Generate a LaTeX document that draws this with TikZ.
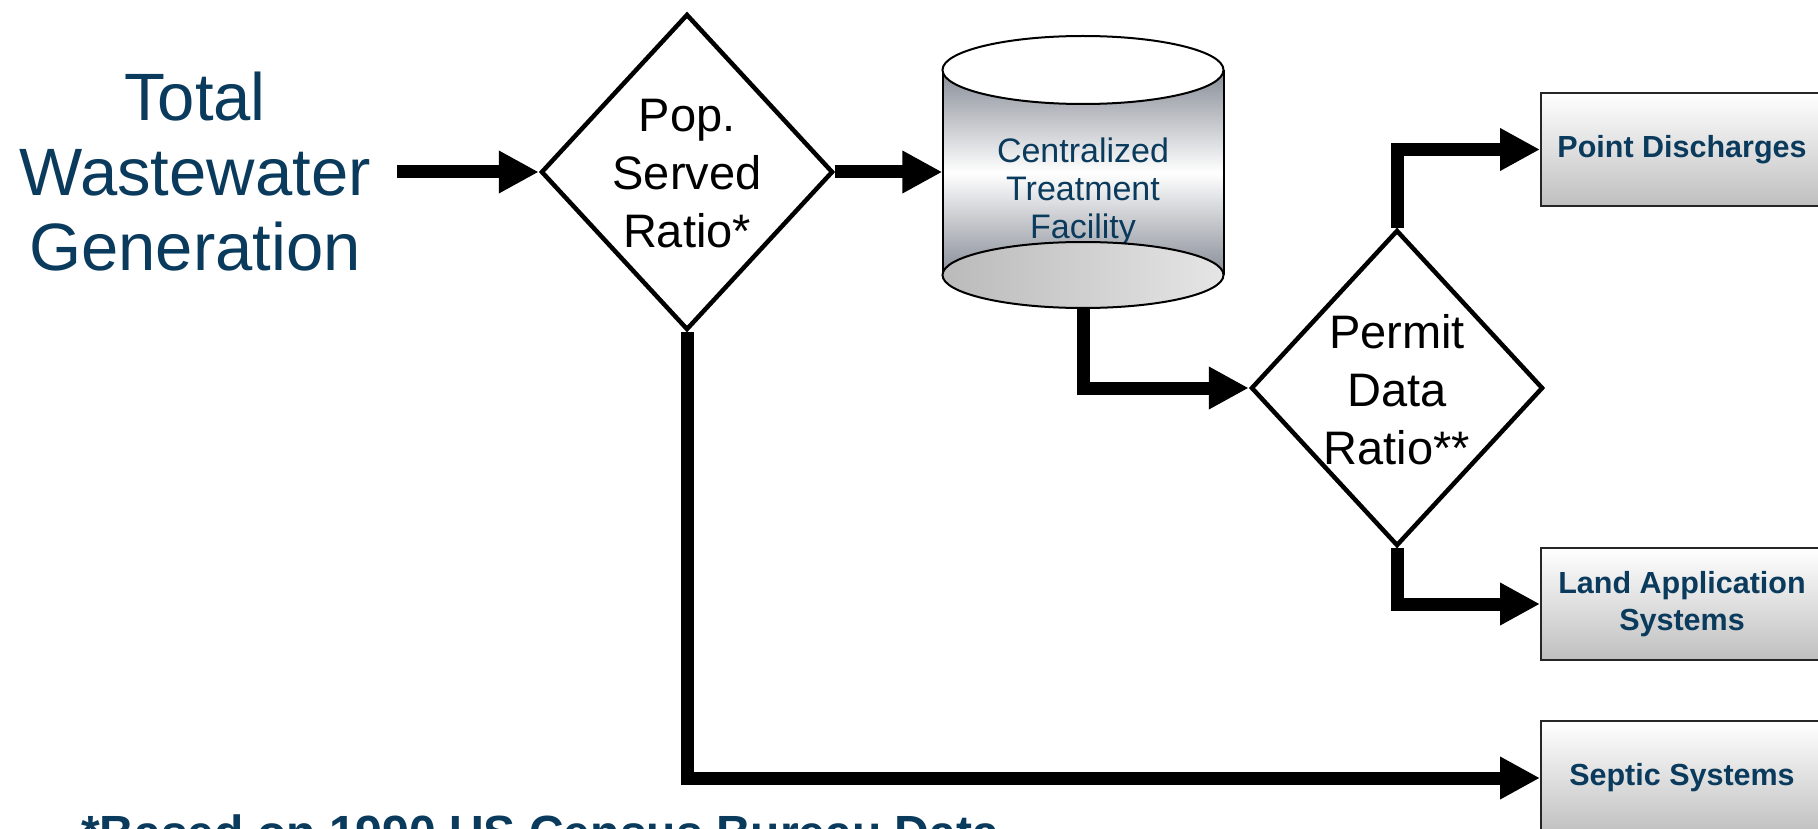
\documentclass[tikz,border=0pt]{standalone}
\usepackage{fontspec}
\setmainfont{Liberation Sans}
\usetikzlibrary{shapes.geometric,arrows.meta}
\definecolor{navy}{RGB}{10,58,92}
\definecolor{cylgray}{RGB}{135,140,150}
\begin{document}
\begin{tikzpicture}[x=1pt,y=-1pt,
  flow/.style={line width=13pt, -{Triangle[length=40pt,width=40pt]}, line join=miter},
  decision/.style={diamond, draw, line width=4.5pt, minimum width=292pt, minimum height=316pt, inner sep=0pt},
  dtext/.style={font=\fontsize{47}{58}\selectfont, align=center, inner sep=0pt},
  outbox/.style={draw=black!85, line width=2pt, top color=white, bottom color=black!25,
    minimum width=282pt, anchor=north west, inner sep=0pt,
    font=\fontsize{30.5}{37}\selectfont\bfseries, text=navy, align=center},
  cylline/.style={draw=black, line width=2pt},
]
\useasboundingbox (0,0) rectangle (1818,829);
\clip (0,0) rectangle (1818,829);

% title text
\node[font=\fontsize{67}{75}\selectfont, text=navy, align=center, inner xsep=26pt, inner ysep=0pt]
  (total) at (195,172) {Total\\Wastewater\\Generation};

% decisions
\node[decision, label={[dtext, yshift=-2pt]center:{Pop.\\Served\\Ratio*}}] (pop) at (687,172) {};
\node[decision, label={[dtext, yshift=-2pt]center:{Permit\\Data\\Ratio**}}] (permit) at (1397,388) {};

% cylinder
\path[top color=cylgray, bottom color=cylgray, middle color=white] (942.5,70) rectangle (1223.5,275);
\draw[cylline] (942.5,70) -- (942.5,275);
\draw[cylline] (1223.5,70) -- (1223.5,275);
\draw[cylline, fill=white] (1083,70) ellipse [x radius=140.5, y radius=34];
\node[minimum width=281pt, minimum height=272pt, inner sep=0pt,
  label={[font=\fontsize{34}{38}\selectfont, text=navy, align=center, yshift=-20pt]center:{Centralized\\Treatment\\Facility}}]
  (cyl) at (1083,172) {};
\draw[cylline, left color=black!27, right color=black!10] (1083,275) ellipse [x radius=140.5, y radius=33];

% output boxes
\node[outbox, minimum height=113pt] (point) at (1540,92) {Point Discharges};
\node[outbox, minimum height=112pt] (land) at (1540,547) {Land Application\\Systems};
\node[outbox, minimum height=114pt] (septic) at (1540,720) {Septic Systems};

% connectors
\draw[flow] (total.east) -- (pop.west);
\draw[flow] (pop.east) -- (cyl.west);
\draw[flow] (cyl.south) |- (permit.west);
\draw[flow] (permit.north) |- (point.west);
\draw[flow] (permit.south) |- (land.west);
\draw[flow] (pop.south) |- (septic.west);

% footnote
\node[anchor=base west, font=\fontsize{48}{58}\selectfont\bfseries, text=navy, inner sep=0pt]
  (note) at (81,849) {*Based on 1990 US Census Bureau Data};
\end{tikzpicture}
\end{document}
